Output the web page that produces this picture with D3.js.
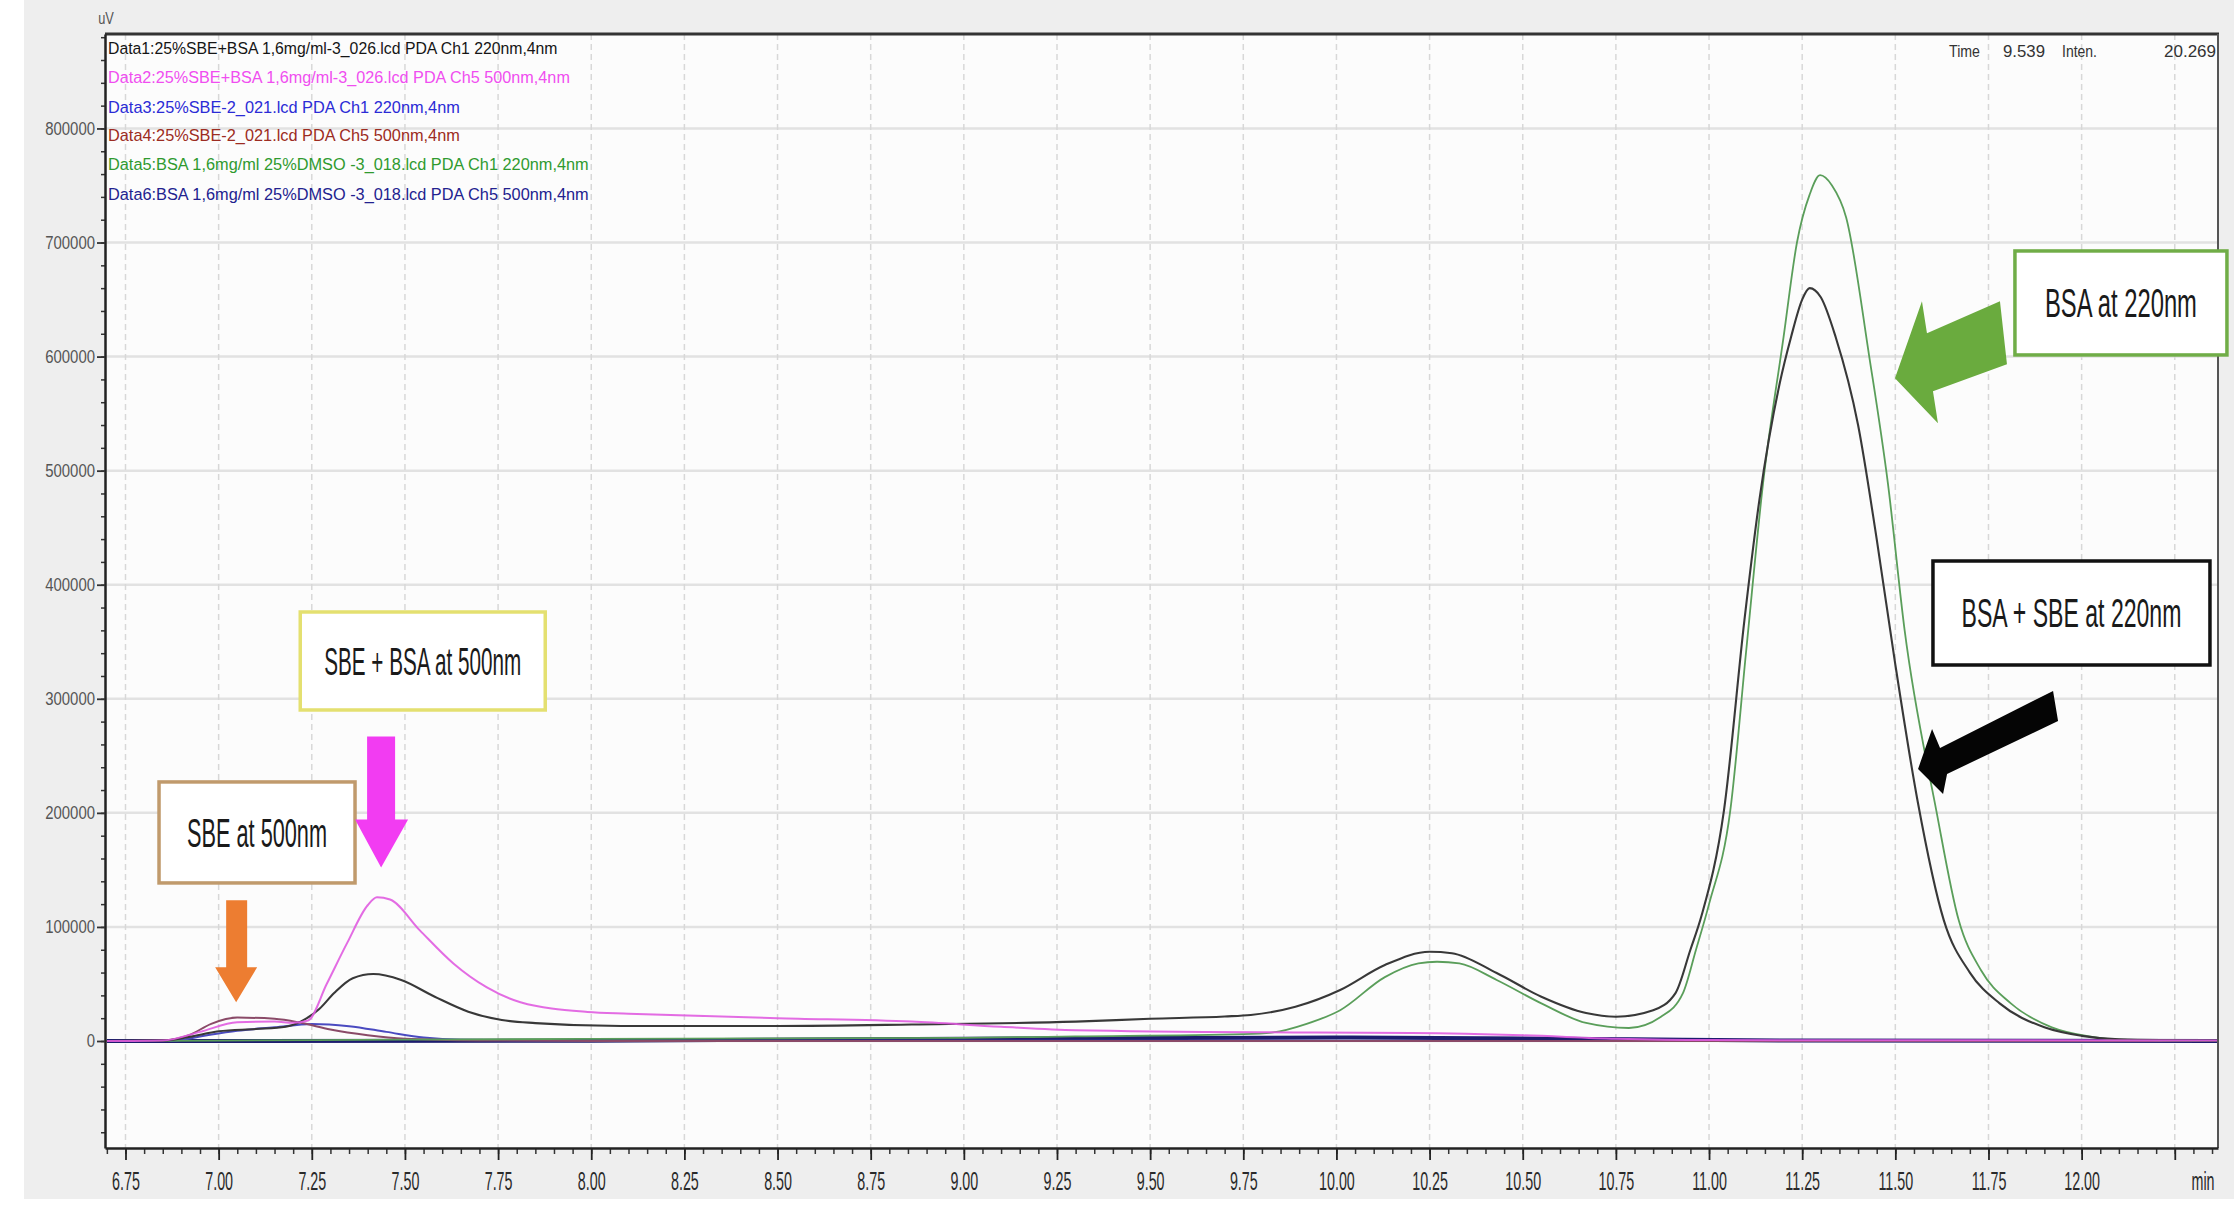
<!DOCTYPE html>
<html>
<head>
<meta charset="utf-8">
<script src="https://cdn.jsdelivr.net/npm/d3@7"></script>
<style>
  html, body { margin: 0; padding: 0; background: #ffffff; }
  svg { display: block; }
</style>
</head>
<body>
<svg id="chart" width="2234" height="1210"></svg>
<script>
// ---- Chromatogram traces: [retention time (min), response (uV)] ----
// Data1: SBE + BSA, PDA Ch1 220 nm
const sbeBsa220 = [
  [6.70, 0], [6.85, 300], [6.92, 3500], [7.00, 8500], [7.10, 10500], [7.18, 12500],
  [7.22, 17000], [7.27, 28000], [7.31, 42000], [7.36, 55000], [7.415, 58700], [7.49, 53500],
  [7.58, 38800], [7.67, 25700], [7.76, 18400], [7.85, 15700], [8.08, 13100], [8.50, 13200],
  [8.86, 14500], [9.30, 17000], [9.50, 19500], [9.70, 21500], [9.77, 22800], [9.89, 30000],
  [10.01, 44700], [10.13, 66600], [10.25, 78300], [10.31, 77000], [10.43, 59600], [10.55, 38800],
  [10.67, 24500], [10.75, 21300], [10.85, 27000], [10.91, 42000], [10.95, 80000], [10.98, 110000],
  [11.04, 202000], [11.095, 369000], [11.135, 474000], [11.19, 577000], [11.22, 617000],
  [11.25, 650000], [11.27, 660000], [11.30, 652000], [11.34, 617000], [11.40, 540000],
  [11.45, 440000], [11.50, 330000], [11.56, 210000], [11.63, 106000], [11.70, 60000],
  [11.78, 33000], [11.90, 12000], [12.00, 4500], [12.10, 1500], [12.37, 300]
];
// Data2: SBE + BSA, PDA Ch5 500 nm
const sbeBsa500 = [
  [6.70, 0], [6.85, 500], [6.95, 8000], [7.05, 16500], [7.15, 17000], [7.20, 16000],
  [7.24, 18000], [7.29, 50000], [7.345, 86000], [7.40, 119000], [7.425, 126000], [7.46, 124000],
  [7.54, 97000], [7.63, 68000], [7.72, 47000], [7.81, 34000], [7.99, 25500], [8.10, 24000],
  [8.50, 20000], [8.86, 17000], [9.10, 12500], [9.30, 9500], [9.90, 7500], [10.20, 7000],
  [10.50, 5000], [10.75, 2000], [11.00, 800], [12.37, 500]
];
// Data3: SBE, PDA Ch1 220 nm
const sbe220 = [
  [6.70, 0], [6.88, 300], [6.95, 4000], [7.05, 9000], [7.15, 12000], [7.25, 15000],
  [7.35, 13000], [7.45, 8000], [7.55, 3000], [7.65, 1000], [8.00, 200], [12.37, 0]
];
// Data4: SBE, PDA Ch5 500 nm
const sbe500 = [
  [6.70, 0], [6.85, 400], [6.92, 5000], [6.98, 15000], [7.05, 20500], [7.15, 19500],
  [7.22, 16000], [7.30, 10000], [7.40, 5000], [7.50, 2000], [7.70, 500], [8.00, 0], [12.37, 0]
];
// Data5: BSA, PDA Ch1 220 nm
const bsa220 = [
  [6.70, 0], [7.00, 400], [7.50, 1200], [8.00, 1800], [8.50, 2300], [9.00, 2800], [9.30, 4000],
  [9.75, 6000], [9.83, 7500], [9.92, 15000], [10.01, 27000], [10.13, 56000], [10.22, 68000],
  [10.27, 69500], [10.33, 68000], [10.43, 53500], [10.55, 33000], [10.67, 15800], [10.785, 11400],
  [10.87, 21000], [10.93, 42000], [10.965, 80000], [11.00, 120000], [11.057, 202000],
  [11.10, 343000], [11.145, 489000], [11.20, 617000], [11.236, 700000], [11.27, 742000],
  [11.298, 759000], [11.33, 750000], [11.368, 722000], [11.43, 600000], [11.48, 489000],
  [11.525, 360000], [11.61, 202000], [11.67, 106000], [11.73, 62000], [11.81, 33000],
  [11.92, 12000], [12.02, 4000], [12.10, 1200], [12.37, 200]
];
// Data6: BSA, PDA Ch5 500 nm
const bsa500 = [
  [6.70, 0], [8.00, 300], [9.30, 2500], [10.00, 3000], [10.80, 1500], [11.20, 500], [12.37, 0]
];

// ---- Legend entries ----
const legendLabels = [
  "Data1:25%SBE+BSA 1,6mg/ml-3_026.lcd PDA Ch1 220nm,4nm",
  "Data2:25%SBE+BSA 1,6mg/ml-3_026.lcd PDA Ch5 500nm,4nm",
  "Data3:25%SBE-2_021.lcd PDA Ch1 220nm,4nm",
  "Data4:25%SBE-2_021.lcd PDA Ch5 500nm,4nm",
  "Data5:BSA 1,6mg/ml 25%DMSO -3_018.lcd PDA Ch1 220nm,4nm",
  "Data6:BSA 1,6mg/ml 25%DMSO -3_018.lcd PDA Ch5 500nm,4nm"
];
const legendWidths = [450, 462, 352, 352, 481, 481];
const legendColors = ["#151515", "#f04ef0", "#2b2bd6", "#9c2c22", "#2f9a2f", "#22228f"];

// ---- Axis ticks ----
const xTickValues = [6.75, 7.00, 7.25, 7.50, 7.75, 8.00, 8.25, 8.50, 8.75, 9.00, 9.25, 9.50,
  9.75, 10.00, 10.25, 10.50, 10.75, 11.00, 11.25, 11.50, 11.75, 12.00, 12.25];
const xTickLabels = ["6.75", "7.00", "7.25", "7.50", "7.75", "8.00", "8.25", "8.50", "8.75",
  "9.00", "9.25", "9.50", "9.75", "10.00", "10.25", "10.50", "10.75", "11.00", "11.25",
  "11.50", "11.75", "12.00", ""];
const yTickValues = [0, 100000, 200000, 300000, 400000, 500000, 600000, 700000, 800000];
const yTickLabels = ["0", "100000", "200000", "300000", "400000", "500000", "600000", "700000", "800000"];

// ---- Callout annotations ----
const callouts = [
  { text: "BSA at 220nm", t: 11.821, v: 692600, w: 212, h: 104, border: "#70ad47", fs: 40, tw: 152 },
  { text: "BSA + SBE at 220nm", t: 11.601, v: 420800, w: 277, h: 104, border: "#111111", fs: 40, tw: 220 },
  { text: "SBE + BSA at 500nm", t: 7.219, v: 376100, w: 245, h: 98, border: "#e4e070", fs: 38, tw: 197 },
  { text: "SBE at 500nm", t: 6.840, v: 227100, w: 196, h: 101, border: "#c09a6c", fs: 40, tw: 140 }
];
// block arrows: tip in data units, outline in pixels relative to the tip
const arrows = [
  { t: 7.047, v: 34000, fill: "#ed7d31",
    shape: [[0, 0], [-21, -35], [-10, -35], [-10, -102], [11, -102], [11, -35], [21, -35]] },
  { t: 7.436, v: 152000, fill: "#f23cf2",
    shape: [[0, 0], [-26, -48], [-14, -48], [-14, -131], [14, -131], [14, -48], [27, -48]] },
  { t: 11.499, v: 581000, fill: "#6aab3e",
    shape: [[0, 0], [27, -77], [32, -45], [105, -77], [112, -14], [38, 13], [43, 45]] },
  { t: 11.561, v: 238500, fill: "#050505",
    shape: [[0, 0], [14, -40], [22, -21], [135, -78], [140, -48], [29, 5], [25, 25]] }
];

// ---- Layout ----
const W = 2234, H = 1210;
const plot = { left: 105, right: 2218, top: 34, bottom: 1148 };
const FONT = "'Liberation Sans', Arial, sans-serif";

const svg = d3.select("#chart");

const x = d3.scaleLinear().domain([6.695, 12.366]).range([plot.left, plot.right]);
const y = d3.scaleLinear().domain([-93800, 882800]).range([plot.bottom, plot.top]);

// Places a text so that it spans `width` pixels, squeezing the glyphs horizontally.
// anchor: "start" puts its left edge at px, "middle" centres it on px.
function fitText(g, str, px, py, width, anchor, attrs) {
  const t = g.append("text").attr("x", 0).attr("y", 0).attr("text-anchor", anchor);
  Object.entries(attrs).forEach(([k, v]) => t.attr(k, v));
  t.text(str);
  const natural = t.node().getComputedTextLength();
  const f = natural > 0 ? width / natural : 1;
  t.attr("transform", `translate(${px},${py}) scale(${f},1)`);
  return t;
}

// panel and plotting area backgrounds
svg.append("rect").attr("x", 0).attr("y", 0).attr("width", W).attr("height", H).attr("fill", "#ffffff");
svg.append("rect").attr("x", 24).attr("y", 0).attr("width", W - 24).attr("height", 1199).attr("fill", "#eeeeee");
svg.append("rect")
  .attr("x", plot.left).attr("y", plot.top)
  .attr("width", plot.right - plot.left).attr("height", plot.bottom - plot.top)
  .attr("fill", "#fcfcfc");

// grid
const grid = svg.append("g");
grid.selectAll("line.h").data(yTickValues).join("line")
  .attr("x1", plot.left).attr("x2", plot.right)
  .attr("y1", d => y(d)).attr("y2", d => y(d))
  .attr("stroke", "#e2e2e2").attr("stroke-width", 2.5);
grid.selectAll("line.v").data(xTickValues).join("line")
  .attr("x1", d => x(d)).attr("x2", d => x(d))
  .attr("y1", plot.top).attr("y2", plot.bottom)
  .attr("stroke", "#d8d8d8").attr("stroke-width", 1.5).attr("stroke-dasharray", "6,4");

// traces
svg.append("clipPath").attr("id", "plotClip").append("rect")
  .attr("x", plot.left).attr("y", plot.top)
  .attr("width", plot.right - plot.left).attr("height", plot.bottom - plot.top);

const line = d3.line().x(d => x(d[0])).y(d => y(d[1])).curve(d3.curveMonotoneX);
const traces = [
  { values: bsa500, color: "#1c1c6e", width: 4 },
  { values: sbe220, color: "#4a4ac0", width: 2 },
  { values: sbe500, color: "#8a4a68", width: 2 },
  { values: bsa220, color: "#5a9e5a", width: 1.8 },
  { values: sbeBsa220, color: "#383838", width: 2.1 },
  { values: sbeBsa500, color: "#e05ce0", width: 2, opacity: 0.9 }
];
const gTraces = svg.append("g").attr("clip-path", "url(#plotClip)");
gTraces.selectAll("path").data(traces).join("path")
  .attr("d", d => line(d.values))
  .attr("fill", "none")
  .attr("stroke", d => d.color)
  .attr("stroke-width", d => d.width)
  .attr("stroke-opacity", d => d.opacity || 1)
  .attr("stroke-linejoin", "round");

// frame: top and right borders
svg.append("line").attr("x1", plot.left).attr("x2", plot.right + 1)
  .attr("y1", plot.top).attr("y2", plot.top).attr("stroke", "#333").attr("stroke-width", 3);
svg.append("line").attr("x1", plot.right).attr("x2", plot.right)
  .attr("y1", plot.top).attr("y2", plot.bottom).attr("stroke", "#555").attr("stroke-width", 2);

// ---- X axis ----
const xMinor = d3.range(6.70, 12.37, 0.05);
svg.append("g").attr("transform", `translate(0,${plot.bottom})`)
  .call(d3.axisBottom(x).tickValues(xMinor).tickSize(6).tickFormat("").tickSizeOuter(0))
  .call(g => g.select(".domain").remove())
  .call(g => g.selectAll(".tick line").attr("stroke", "#333").attr("stroke-width", 1.5));

const gx = svg.append("g").attr("transform", `translate(0,${plot.bottom})`)
  .call(d3.axisBottom(x).tickValues(xTickValues).tickSize(12).tickPadding(12).tickSizeOuter(0)
    .tickFormat((d, i) => xTickLabels[i]));
gx.select(".domain").attr("stroke", "#222").attr("stroke-width", 2.5);
gx.selectAll(".tick line").attr("stroke", "#222").attr("stroke-width", 1.8);
gx.selectAll(".tick text")
  .attr("font-family", FONT).attr("font-size", 26).attr("fill", "#2a2a2a")
  .attr("transform", "scale(0.55,1)");

svg.append("text")
  .attr("x", 2203 / 0.55).attr("y", 1190)
  .attr("transform", "scale(0.55,1)")
  .attr("text-anchor", "middle")
  .attr("font-family", FONT).attr("font-size", 26).attr("fill", "#2a2a2a")
  .text("min");

// ---- Y axis ----
const yMinor = d3.range(-80000, 880001, 20000);
svg.append("g").attr("transform", `translate(${plot.left},0)`)
  .call(d3.axisLeft(y).tickValues(yMinor).tickSize(4).tickFormat("").tickSizeOuter(0))
  .call(g => g.select(".domain").remove())
  .call(g => g.selectAll(".tick line").attr("stroke", "#333").attr("stroke-width", 1.5));

const gy = svg.append("g").attr("transform", `translate(${plot.left},0)`)
  .call(d3.axisLeft(y).tickValues(yTickValues).tickSize(8).tickPadding(2).tickSizeOuter(0)
    .tickFormat((d, i) => yTickLabels[i]));
gy.select(".domain").attr("stroke", "#222").attr("stroke-width", 2.5);
gy.selectAll(".tick line").attr("stroke", "#333").attr("stroke-width", 1.8);
const yScaleX = 0.83;
gy.selectAll(".tick text")
  .attr("font-family", FONT).attr("font-size", 18).attr("fill", "#555")
  .attr("x", -10 / yScaleX)
  .attr("transform", `scale(${yScaleX},1)`);

// unit label
svg.append("text")
  .attr("x", 106 / 0.8).attr("y", 24).attr("transform", "scale(0.8,1)")
  .attr("text-anchor", "middle")
  .attr("font-family", FONT).attr("font-size", 16).attr("fill", "#555")
  .text("uV");

// ---- Legend ----
const legendRowsY = [48, 77, 107, 135, 164, 194];
const gLegend = svg.append("g");
legendLabels.forEach((label, i) => {
  fitText(gLegend, label, 108, legendRowsY[i] + 6, legendWidths[i], "start",
    { "font-family": FONT, "font-size": 17, "fill": legendColors[i] });
});

// cursor readout, top right
const readoutText = ["Time", "9.539", "Inten.", "20.269"];
const readoutX = [1949, 2003, 2062, 2164];
const readoutW = [31, 42, 35, 52];
const gReadout = svg.append("g");
readoutText.forEach((s, i) => {
  fitText(gReadout, s, readoutX[i], 57, readoutW[i], "start",
    { "font-family": FONT, "font-size": 17, "fill": "#333" });
});

// ---- Callout boxes ----
const gCall = svg.append("g");
callouts.forEach(c => {
  const bx = x(c.t), by = y(c.v);
  gCall.append("rect")
    .attr("x", bx).attr("y", by).attr("width", c.w).attr("height", c.h)
    .attr("fill", "#ffffff").attr("stroke", c.border).attr("stroke-width", 3.5);
  fitText(gCall, c.text, bx + c.w / 2, by + c.h / 2 + c.fs * 0.36, c.tw, "middle",
    { "font-family": FONT, "font-size": c.fs, "fill": "#1a1a1a" });
});

// ---- Block arrows ----
svg.append("g").selectAll("polygon").data(arrows).join("polygon")
  .attr("points", a => a.shape.map(p => [x(a.t) + p[0], y(a.v) + p[1]].join(",")).join(" "))
  .attr("fill", a => a.fill);
</script>
</body>
</html>
